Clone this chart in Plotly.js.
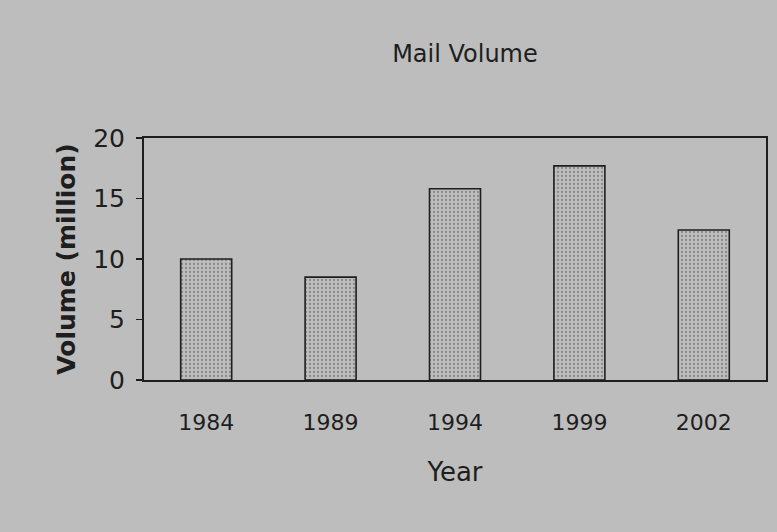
<!DOCTYPE html>
<html>
<head>
<meta charset="utf-8">
<script src="https://cdn.plot.ly/plotly-3.0.1.min.js"></script>
<style>html,body{margin:0;padding:0;background:#bdbdbd;}#chart{width:777px;height:532px;}</style>
</head>
<body>
<div id="chart"></div>
<script>
const years = ["1984", "1989", "1994", "1999", "2002"];
const volume = [10, 8.5, 15.8, 17.7, 12.4];
const yTicks = [0, 5, 10, 15, 20];

const bg = "#bdbdbd";
const ink = "#1e1e1e";
const fam = "DejaVu Sans, Arial, sans-serif";

const trace = {
  type: "bar",
  x: years,
  y: volume,
  marker: {
    color: bg,
    line: {color: ink, width: 1.6},
    pattern: {shape: ".", fgcolor: "#8a8a8a", bgcolor: bg, size: 4, solidity: 0.25}
  },
  hoverinfo: "none"
};

const layout = {
  width: 777,
  height: 532,
  paper_bgcolor: bg,
  plot_bgcolor: bg,
  margin: {l: 144, r: 11, t: 138, b: 152},
  showlegend: false,
  bargap: 0.59,
  title: {
    text: "Mail Volume",
    font: {family: fam, size: 24, color: ink},
    x: 0.516, xanchor: "center", xref: "paper",
    y: 0.9, yanchor: "middle", yref: "container"
  },
  xaxis: {
    type: "category",
    range: [-0.5, 4.5],
    showline: true, linecolor: ink, linewidth: 2, mirror: true,
    ticks: "", showgrid: false, zeroline: false,
    tickfont: {family: fam, size: 22, color: ink},
    ticklabelstandoff: 22,
    title: {text: "Year", font: {family: fam, size: 26, color: ink}, standoff: 28},
    automargin: false
  },
  yaxis: {
    range: [0, 20],
    tickvals: yTicks,
    ticktext: yTicks.map(String),
    showline: true, linecolor: ink, linewidth: 2, mirror: true,
    ticks: "outside", ticklen: 6, tickwidth: 1.5, tickcolor: ink,
    showgrid: false, zeroline: false,
    tickfont: {family: fam, size: 25, color: ink},
    ticklabelstandoff: 6,
    title: {text: "<b>Volume (million)</b>", font: {family: fam, size: 25, color: ink}, standoff: 10},
    automargin: false
  }
};

Plotly.newPlot("chart", [trace], layout, {staticPlot: true, displayModeBar: false});
</script>
</body>
</html>
